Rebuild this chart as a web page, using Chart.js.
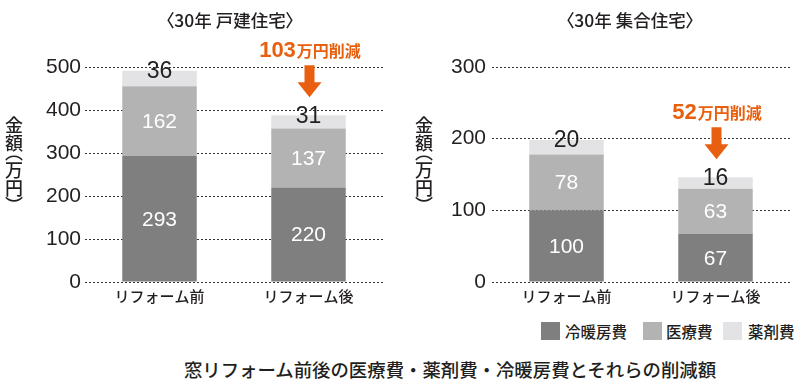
<!DOCTYPE html>
<html><head><meta charset="utf-8">
<script src="https://cdn.jsdelivr.net/npm/chart.js@4"></script>
<style>
html,body{margin:0;padding:0;background:#fff;}
body{width:800px;height:383px;position:relative;overflow:hidden;font-family:"Noto Sans CJK JP","Noto Sans",sans-serif;color:#231f20;}
.cv{position:absolute;top:0;width:400px;height:310px;}
.title{position:absolute;top:8px;font-size:17.5px;line-height:24px;white-space:nowrap;font-feature-settings:"palt" 1;transform:translateX(-50%);font-weight:500;}
.ytitle{position:absolute;top:116px;writing-mode:vertical-rl;font-size:18px;line-height:18px;font-feature-settings:"vpal" 1;font-weight:500;}
.sw{position:absolute;top:322px;width:19px;height:18px;}
.lt{position:absolute;top:320px;font-size:15.5px;line-height:22px;white-space:nowrap;font-weight:500;}
.cap{position:absolute;top:356px;left:450px;transform:translateX(-50%);font-size:18.4px;line-height:26px;white-space:nowrap;font-weight:500;}
</style></head>
<body>
<div class="cv" style="left:0"><canvas id="c1" width="400" height="310"></canvas></div>
<div class="cv" style="left:400px"><canvas id="c2" width="400" height="310"></canvas></div>
<div class="title" style="left:230px">〈30年 戸建住宅〉</div>
<div class="title" style="left:630px">〈30年 集合住宅〉</div>
<div class="ytitle" style="left:5px">金額（万円）</div>
<div class="ytitle" style="left:415px">金額（万円）</div>
<div id="legend"></div>
<div class="cap">窓リフォーム前後の医療費・薬剤費・冷暖房費とそれらの削減額</div>
<script>
const categories = ['リフォーム前', 'リフォーム後'];
const seriesNames = ['冷暖房費', '医療費', '薬剤費'];
const seriesColors = ['#7f7f7f', '#b3b3b3', '#e3e3e5'];
const detachedHeating = [293, 220];
const detachedMedical = [162, 137];
const detachedDrug = [36, 31];
const condoHeating = [100, 67];
const condoMedical = [78, 63];
const condoDrug = [20, 16];
const detachedMax = 500;
const condoMax = 300;
const tickStep = 100;

const ORANGE = '#e8600f';
const TXT = '#231f20';

const segPlugin = {
  id: 'segLabels',
  afterDatasetsDraw(chart) {
    const ctx = chart.ctx;
    ctx.save();
    ctx.textAlign = 'center';
    ctx.textBaseline = 'middle';
    chart.data.datasets.forEach((ds, di) => {
      const meta = chart.getDatasetMeta(di);
      meta.data.forEach((bar, i) => {
        const p = bar.getProps(['x', 'y', 'base'], true);
        const v = ds.data[i];
        if (di < 2) {
          ctx.fillStyle = '#ffffff';
          ctx.font = '21px "Liberation Sans", Arial, sans-serif';
          ctx.fillText(String(v), p.x, (p.y + p.base) / 2 + 1);
        } else {
          ctx.fillStyle = TXT;
          ctx.font = '23px "Liberation Sans", Arial, sans-serif';
          ctx.fillText(String(v), p.x, p.y + 1);
        }
      });
    });
    // reduction annotation above second bar
    const n = chart.data.datasets.length;
    const totals = chart.data.labels.map((_, i) => chart.data.datasets.reduce((s, d) => s + d.data[i], 0));
    const amount = totals[0] - totals[1];
    const topBar = chart.getDatasetMeta(n - 1).data[1];
    const tp = topBar.getProps(['x', 'y'], true);
    const cx = tp.x + 1;
    const tip = tp.y - 18;
    const headH = 15, shaftH = 17, shaftW = 10, headW = 24;
    const headTop = tip - headH;
    const top = headTop - shaftH;
    ctx.fillStyle = ORANGE;
    ctx.beginPath();
    ctx.moveTo(cx - shaftW / 2, top);
    ctx.lineTo(cx + shaftW / 2, top);
    ctx.lineTo(cx + shaftW / 2, headTop);
    ctx.lineTo(cx + headW / 2, headTop);
    ctx.lineTo(cx, tip);
    ctx.lineTo(cx - headW / 2, headTop);
    ctx.lineTo(cx - shaftW / 2, headTop);
    ctx.closePath();
    ctx.fill();
    const numStr = String(amount);
    const sufStr = '万円削減';
    const f1 = 'bold 22px "Liberation Sans", Arial, sans-serif';
    const f2 = 'bold 16px "Noto Sans CJK JP", sans-serif';
    ctx.font = f1; const w1 = ctx.measureText(numStr).width;
    ctx.font = f2; const w2 = ctx.measureText(sufStr).width;
    const sx = cx - (w1 + w2) / 2;
    const by = top - 8;
    ctx.textAlign = 'left';
    ctx.textBaseline = 'alphabetic';
    ctx.font = f1; ctx.fillText(numStr, sx, by);
    ctx.font = f2; ctx.fillText(sufStr, sx + w1 + 1, by);
    ctx.restore();
  }
};

function makeChart(id, heat, med, drug, maxV, axisW, rightPad, tickPad) {
  const data = {
    labels: categories,
    datasets: [heat, med, drug].map((d, i) => ({
      label: seriesNames[i],
      data: d,
      backgroundColor: seriesColors[i],
      borderWidth: 0,
      barPercentage: 1,
      categoryPercentage: 0.5
    }))
  };
  return new Chart(document.getElementById(id), {
    type: 'bar',
    data,
    options: {
      responsive: false,
      animation: false,
      events: [],
      layout: { padding: { top: 67, right: rightPad, left: 0, bottom: 0 } },
      plugins: { legend: { display: false }, tooltip: { enabled: false }, title: { display: false } },
      scales: {
        x: {
          stacked: true,
          grid: { display: false, drawTicks: false },
          border: { display: false },
          ticks: { color: TXT, padding: 5, font: { size: 15, weight: '500', family: '"Noto Sans CJK JP", sans-serif' } },
          afterFit(s) { s.height = 28; }
        },
        y: {
          stacked: true,
          min: 0, max: maxV,
          grid: { color: '#333333', lineWidth: 1, drawTicks: false },
          border: { display: false, dash: [2, 2] },
          ticks: { stepSize: tickStep, color: TXT, padding: tickPad, font: { size: 21, family: '"Liberation Sans", Arial, sans-serif' } },
          afterFit(s) { s.width = axisW; }
        }
      }
    },
    plugins: [segPlugin]
  });
}

makeChart('c1', detachedHeating, detachedMedical, detachedDrug, detachedMax, 85, 17, 4);
makeChart('c2', condoHeating, condoMedical, condoDrug, condoMax, 92, 10, 6);

// legend
const legX = [[541, 565], [643, 666], [723, 748]];
const lg = document.getElementById('legend');
seriesNames.forEach((n, i) => {
  const sw = document.createElement('div');
  sw.className = 'sw'; sw.style.left = legX[i][0] + 'px'; sw.style.background = seriesColors[i];
  lg.appendChild(sw);
  const t = document.createElement('div');
  t.className = 'lt'; t.style.left = legX[i][1] + 'px'; t.textContent = n;
  lg.appendChild(t);
});
</script>
</body></html>
